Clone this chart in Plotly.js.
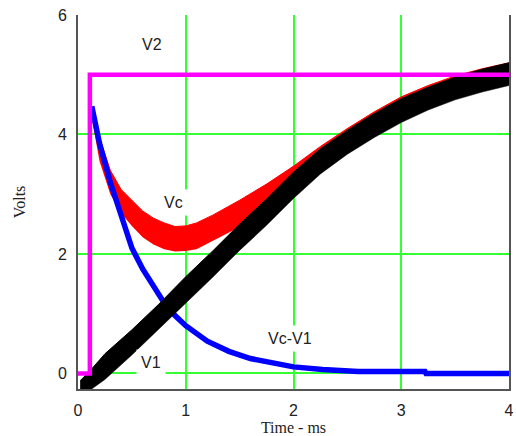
<!DOCTYPE html>
<html>
<head>
<meta charset="utf-8">
<script src="https://cdn.plot.ly/plotly-3.0.1.min.js"></script>
<style>html,body{margin:0;padding:0;background:#fff;}#chart{width:516px;height:436px;}</style>
</head>
<body>
<div id="chart"></div>
<script>
// V2 step input
var t_v2 = [0, 0.11, 0.11, 4.0];
var v_v2 = [0, 0, 5.0, 5.0];

// Vc (red, noisy) envelope
var t_vc = [0.13,0.2,0.3,0.4,0.5,0.6,0.7,0.8,0.9,1.0,1.1,1.25,1.5,1.75,2.0,2.25,2.5,2.75,3.0,3.25,3.5,3.75,4.0];
var vc_hi = [4.45,3.95,3.4,3.08,2.9,2.72,2.6,2.52,2.46,2.47,2.52,2.65,2.9,3.17,3.47,3.8,4.1,4.38,4.63,4.82,4.98,5.1,5.2];
var vc_lo = [4.25,3.55,3.0,2.68,2.47,2.28,2.16,2.08,2.04,2.05,2.08,2.22,2.45,2.72,3.05,3.4,3.7,3.97,4.22,4.42,4.6,4.73,4.84];

// V1 (black, noisy) envelope
var t_v1 = [0.02,0.1,0.25,0.5,0.75,1.0,1.25,1.5,1.75,2.0,2.25,2.5,2.75,3.0,3.25,3.5,3.75,4.0];
var v1_hi = [-0.12,0.02,0.33,0.73,1.16,1.62,2.05,2.5,2.92,3.37,3.76,4.07,4.35,4.6,4.79,4.96,5.09,5.2];
var v1_lo = [-0.4,-0.3,-0.1,0.31,0.74,1.18,1.61,2.06,2.48,2.93,3.34,3.67,3.95,4.2,4.41,4.58,4.71,4.82];

// Vc-V1 (blue)
var t_d = [0.128,0.15,0.2,0.3,0.4,0.5,0.6,0.7,0.8,0.9,1.0,1.2,1.4,1.6,1.8,2.0,2.27,2.59,2.6,3.22,3.23,4.0];
var v_d = [4.47,4.25,3.85,3.2,2.62,2.1,1.75,1.45,1.18,0.97,0.8,0.54,0.37,0.25,0.17,0.11,0.067,0.05,0.033,0.033,0.0,0.0];

// Labels
var lab_text = ["V2", "Vc", "V1", "Vc-V1"];
var lab_x = [0.69, 0.89, 0.68, 1.97];
var lab_y = [5.50, 2.87, 0.19, 0.58];

var xticks = [0, 1, 2, 3, 4];
var yticks = [0, 2, 4, 6];

var traces = [
  {x: t_vc, y: vc_lo, mode: 'lines', line: {width: 0, color: '#ff0000'}, hoverinfo: 'skip', showlegend: false},
  {x: t_vc, y: vc_hi, mode: 'lines', fill: 'tonexty', fillcolor: '#ff0000', line: {width: 1, color: '#ff0000'}, name: 'Vc', showlegend: false},
  {x: t_d, y: v_d, mode: 'lines', line: {width: 5.5, color: '#0000ff'}, name: 'Vc-V1', showlegend: false},
  {x: t_v1, y: v1_lo, mode: 'lines', line: {width: 0.5, color: '#000000'}, hoverinfo: 'skip', showlegend: false},
  {x: t_v1, y: v1_hi, mode: 'lines', fill: 'tonexty', fillcolor: '#000000', line: {width: 1, color: '#000000'}, name: 'V1', showlegend: false},
  {x: t_v2, y: v_v2, mode: 'lines', line: {width: 4.5, color: '#ff00ff'}, name: 'V2', showlegend: false}
];

var annotations = lab_text.map(function (s, i) {
  return {x: lab_x[i], y: lab_y[i], xref: 'x', yref: 'y', text: s, showarrow: false,
    font: {family: 'Liberation Sans, Arial, sans-serif', size: 16, color: '#222'},
    bgcolor: '#ffffff', borderpad: 4, xanchor: 'center', yanchor: 'middle'};
});

var layout = {
  width: 516, height: 436,
  margin: {l: 78, r: 7, t: 15, b: 47},
  paper_bgcolor: '#ffffff', plot_bgcolor: '#ffffff',
  showlegend: false,
  font: {family: 'Liberation Sans, Arial, sans-serif', size: 16, color: '#222'},
  xaxis: {
    range: [0, 4], tickvals: xticks, ticktext: xticks.map(String),
    showgrid: true, gridcolor: '#33ff33', gridwidth: 2, zeroline: false,
    showline: true, linecolor: '#555555', linewidth: 2, mirror: false,
    ticks: '', ticklabelstandoff: 6,
    tickfont: {family: 'Liberation Sans, Arial, sans-serif', size: 16, color: '#222'},
    title: {text: 'Time - ms', standoff: 7, font: {family: 'Liberation Serif, Times New Roman, serif', size: 16, color: '#222'}}
  },
  yaxis: {
    range: [-0.26, 6], tickvals: yticks, ticktext: yticks.map(String),
    showgrid: true, gridcolor: '#33ff33', gridwidth: 2, zeroline: false,
    showline: true, linecolor: '#555555', linewidth: 2, mirror: true,
    ticks: '', ticklabelstandoff: 6,
    tickfont: {family: 'Liberation Sans, Arial, sans-serif', size: 16, color: '#222'},
    title: {text: 'Volts', standoff: 28, font: {family: 'Liberation Serif, Times New Roman, serif', size: 16, color: '#222'}}
  },
  annotations: annotations
};

Plotly.newPlot('chart', traces, layout, {displayModeBar: false, staticPlot: true});
</script>
</body>
</html>
